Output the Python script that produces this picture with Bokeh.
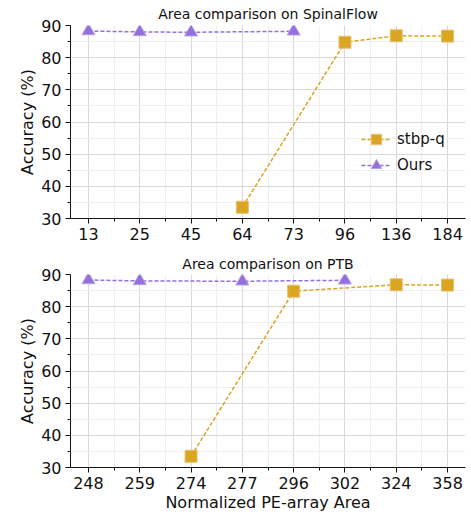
from bokeh.plotting import figure
from bokeh.layouts import column
from bokeh.models import FixedTicker, Legend, LegendItem
from bokeh.embed import file_html
from bokeh.resources import INLINE

top_cats = ["13", "25", "45", "64", "73", "96", "136", "184"]
bot_cats = ["248", "259", "274", "277", "296", "302", "324", "358"]

top_stbp_idx = [3, 5, 6, 7]
top_ours_idx = [0, 1, 2, 4]
bot_stbp_idx = [2, 4, 6, 7]
bot_ours_idx = [0, 1, 3, 5]

stbp_vals = [33.5, 84.8, 86.8, 86.7]
ours_vals = [88.3, 88.0, 87.9, 88.2]

titles = ["Area comparison on SpinalFlow", "Area comparison on PTB"]

GOLD = "#DAA520"
PURPLE = "#9370DB"
FONT = "DejaVu Sans"


def make(cats, s_idx, o_idx, title, height, bottom, xlabel, legend, tstand):
    p = figure(width=471, height=height, output_backend="svg", toolbar_location=None,
               x_range=(-0.35, 7.35), y_range=(30, 90),
               min_border_left=70, min_border_right=6, min_border_bottom=bottom,
               min_border_top=0)
    p.title.text = title
    p.title.text_font = FONT
    p.title.text_font_size = "14px"
    p.title.text_font_style = "normal"
    p.title.align = "center"
    p.title.text_color = "#111111"
    p.title.standoff = tstand
    p.outline_line_color = None
    p.background_fill_color = "white"

    p.xaxis.ticker = FixedTicker(ticks=list(range(8)),
                                 minor_ticks=[i + 0.5 for i in range(-1, 8)])
    p.xaxis.major_label_overrides = {i: c for i, c in enumerate(cats)}
    p.yaxis.ticker = FixedTicker(ticks=[30, 40, 50, 60, 70, 80, 90],
                                 minor_ticks=[35, 45, 55, 65, 75, 85])
    for ax in (p.xaxis, p.yaxis):
        ax.major_label_text_font = FONT
        ax.major_label_text_font_size = "16px"
        ax.major_label_text_color = "#111111"
        ax.axis_label_text_font = FONT
        ax.axis_label_text_font_size = "16px"
        ax.axis_label_text_font_style = "normal"
        ax.axis_label_text_color = "#111111"
        ax.axis_line_color = "#111111"
        ax.major_tick_line_color = "#111111"
        ax.minor_tick_line_color = "#111111"
        ax.major_tick_out = 5
        ax.major_tick_in = 0
        ax.minor_tick_out = 3
        ax.minor_tick_in = 0
        ax.major_label_standoff = 4
        ax.axis_label_standoff = 1
    p.yaxis.axis_label = "Accuracy (%)"
    if xlabel:
        p.xaxis.axis_label = xlabel

    for g in (p.xgrid, p.ygrid):
        g.grid_line_color = "#d9d9d9"
        g.minor_grid_line_color = "#efefef"
    p.xgrid.ticker = p.xaxis.ticker
    p.ygrid.ticker = p.yaxis.ticker

    l1 = p.line(s_idx, stbp_vals, line_color=GOLD, line_dash="4 2", line_width=1.5)
    m1 = p.scatter(s_idx, stbp_vals, marker="square", size=12, fill_color=GOLD,
                   line_color="#e8c070", line_width=1)
    l2 = p.line(o_idx, ours_vals, line_color=PURPLE, line_dash="4 2", line_width=1.5)
    m2 = p.scatter(o_idx, ours_vals, marker="triangle", size=13, fill_color=PURPLE,
                   line_color="#b8a0e8", line_width=1)
    if legend:
        lg = Legend(items=[LegendItem(label="stbp-q", renderers=[l1, m1]),
                           LegendItem(label="Ours", renderers=[l2, m2])],
                    location=(291, 40))
        lg.background_fill_alpha = 0
        lg.border_line_alpha = 0
        lg.label_text_font = FONT
        lg.label_text_font_size = "15px"
        lg.label_text_color = "#111111"
        lg.glyph_width = 30
        lg.glyph_height = 26
        lg.spacing = 0
        lg.label_standoff = 6
        lg.label_height = 20
        lg.padding = 0
        lg.margin = 0
        p.add_layout(lg, "center")
    return p


p1 = make(top_cats, top_stbp_idx, top_ours_idx, titles[0], 250, 32, None, True, 7)
p2 = make(bot_cats, bot_stbp_idx, bot_ours_idx, titles[1], 264, 47,
          "Normalized PE-array Area", False, 6)

layout = column(p1, p2, spacing=0)
open("out.html", "w").write(file_html(layout, INLINE))
